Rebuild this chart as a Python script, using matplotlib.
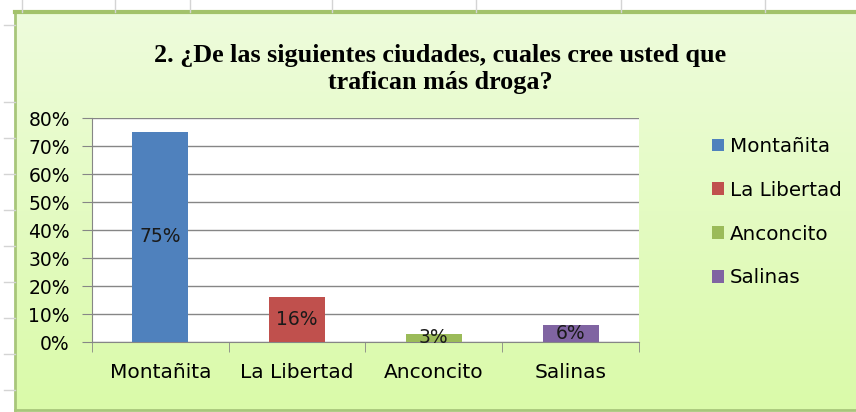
import numpy as np
import matplotlib
matplotlib.use("Agg")
import matplotlib.pyplot as plt
from matplotlib.patches import Patch
from matplotlib.lines import Line2D

# data
cities = ['Montañita', 'La Libertad', 'Anconcito', 'Salinas']
shares = [0.75, 0.16, 0.03, 0.06]
colors = ['#4f81bd', '#c0504d', '#9bbb59', '#8064a2']
yticks = [0.0, 0.1, 0.2, 0.3, 0.4, 0.5, 0.6, 0.7, 0.8]
title = '2. ¿De las siguientes ciudades, cuales cree usted que\ntrafican más droga?'

W, H = 856, 412
fig = plt.figure(figsize=(W / 100, H / 100), dpi=100)
fig.patch.set_facecolor('white')

def px(x0, y0, x1, y1):
    # pixel box (top-left origin) -> figure fraction rect
    return [x0 / W, 1 - y1 / H, (x1 - x0) / W, (y1 - y0) / H]

# spreadsheet grid peeking out around the chart
for gx in [22, 115, 190, 332, 476, 621, 765]:
    fig.add_artist(Line2D([gx / W, gx / W], [1, 1 - 12 / H], color='#d4d4d4', lw=1))
for gy in [25, 102, 138, 174, 210, 246, 282, 318, 354, 390]:
    fig.add_artist(Line2D([4 / W, 15 / W], [1 - gy / H, 1 - gy / H], color='#d4d4d4', lw=1))

# chart area with gradient
bg = fig.add_axes(px(15, 12, 860, 410), zorder=0)
grad = np.linspace(0, 1, 256).reshape(-1, 1)
top = np.array([0xee, 0xfc, 0xdc]) / 255
bot = np.array([0xda, 0xfa, 0xa9]) / 255
img = top + (bot - top) * grad[..., None]
bg.imshow(img, aspect='auto', extent=[0, 1, 0, 1])
bg.set_xticks([])
bg.set_yticks([])
for s in bg.spines.values():
    s.set_color('#a8c67a')
    s.set_linewidth(2)
bg.spines['top'].set_linewidth(3)
bg.spines['top'].set_color('#a3c26b')

ax = fig.add_axes(px(92, 118, 639, 342), zorder=2)
ax.set_facecolor('white')
x = np.arange(len(cities))
for i in range(len(cities)):
    ax.bar(x[i], shares[i], width=0.41, color=colors[i], label=cities[i], zorder=3)
    ax.text(x[i], shares[i] / 2, f'{shares[i]:.0%}', ha='center', va='center',
            fontsize=13.5, color='#1a1a1a', zorder=4)

ax.set_xlim(-0.5, len(cities) - 0.5)
ax.set_ylim(0, 0.8)
ax.set_yticks(yticks)
ax.set_yticklabels([f'{t:.0%}' for t in yticks], fontsize=13.5)
ax.yaxis.grid(True, color='#868686', lw=1)
ax.set_axisbelow(True)
ax.set_xticks(x)
ax.set_xticklabels(cities, fontsize=14.5)
ax.set_xticks(np.arange(-0.5, len(cities)), minor=True)
ax.tick_params(axis='x', which='major', length=0, pad=15)
ax.tick_params(axis='x', which='minor', length=7, color='#868686')
ax.tick_params(axis='y', length=7, color='#868686', pad=9)
for side in ['top', 'right']:
    ax.spines[side].set_visible(False)
for side in ['left', 'bottom']:
    ax.spines[side].set_color('#868686')

fig.text(440 / W, 1 - 69 / H, title, ha='center', va='center',
         family='Liberation Serif', weight='bold', fontsize=18.8, linespacing=1.25)

handles = [Patch(facecolor=c, edgecolor='none') for c in colors]
fig.legend(handles, cities, loc='upper left', bbox_to_anchor=(694 / W, 1 - 119 / H),
           frameon=False, fontsize=14.3, handlelength=0.6, handleheight=0.6,
           handletextpad=0.3, labelspacing=1.25)

fig.savefig('out.png', dpi=100)
